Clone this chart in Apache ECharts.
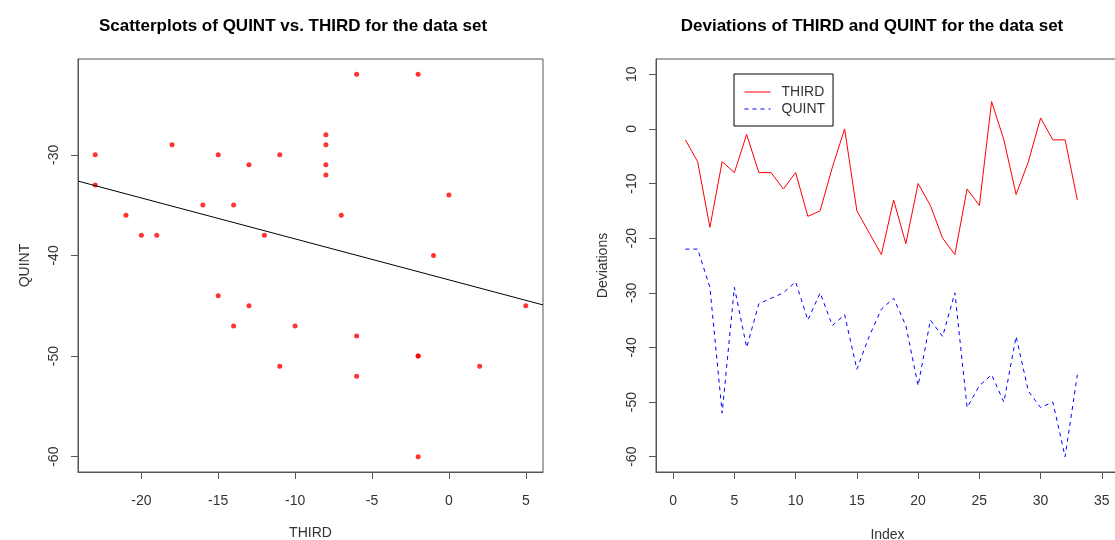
<!DOCTYPE html>
<html>
<head>
<meta charset="utf-8">
<title>QUINT vs THIRD</title>
<script src="https://cdn.jsdelivr.net/npm/echarts@6/dist/echarts.min.js"></script>
<style>
  html, body { margin: 0; padding: 0; background: #fff; }
  #chart { width: 1115px; height: 540px; }
</style>
</head>
<body>
<div id="chart"></div>
<script>
// deviations per index (1..33)
const third = [-2, -6, -18, -6, -8, -1, -8, -8, -11, -8, -16, -15, -7, 0, -15, -19, -23,
  -13, -21, -10, -14, -20, -23, -11, -14, 5, -2, -12, -6, 2, -2, -2, -13]
const quint = [-22, -22, -29, -52, -29, -40, -32, -31, -30, -28, -35, -30, -36, -34, -44, -38, -33,
  -31, -36, -47, -35, -38, -30, -51, -47, -45, -50, -38, -48, -51, -50, -60, -45]

// tick labels
const thirdTicks = [-20, -15, -10, -5, 0, 5]
const quintTicks = [-60, -50, -40, -30]
const indexTicks = [0, 5, 10, 15, 20, 25, 30, 35]
const devTicks = [-60, -50, -40, -30, -20, -10, 0, 10]

const FONT = '"Liberation Sans", Arial, sans-serif'
const AXIS_COLOR = '#555'
const TEXT_COLOR = '#333'

// R style ranges: data range padded by 4%
const pad = (lo, hi) => [lo - (hi - lo) * 0.04, hi + (hi - lo) * 0.04]
const xr1 = pad(Math.min(...third), Math.max(...third))
const yr1 = pad(Math.min(...quint), Math.max(...quint))
const xr2 = pad(0, 35)
const yr2 = pad(-60, 10)

// least squares fit QUINT ~ THIRD
const fit = () => {
  const n = third.length
  const mx = third.reduce((a, b) => a + b, 0) / n
  const my = quint.reduce((a, b) => a + b, 0) / n
  let sxy = 0, sxx = 0
  for (let i = 0; i < n; i++) {
    sxy += (third[i] - mx) * (quint[i] - my)
    sxx += (third[i] - mx) * (third[i] - mx)
  }
  const b = sxy / sxx
  return { a: my - b * mx, b }
}
const { a, b } = fit()

const axisCommon = (ticks, margin) => ({
  type: 'value',
  splitLine: { show: false },
  axisLine: { show: true, onZero: false, lineStyle: { color: AXIS_COLOR } },
  axisTick: { show: true, length: 7, lineStyle: { color: AXIS_COLOR }, customValues: ticks },
  axisLabel: { color: TEXT_COLOR, fontFamily: FONT, fontSize: 14, margin: margin, customValues: ticks },
  nameTextStyle: { color: TEXT_COLOR, fontFamily: FONT, fontSize: 14 },
  nameLocation: 'middle'
})

const chart = echarts.init(document.getElementById('chart'))

const option = {
  animation: false,
  backgroundColor: '#fff',
  title: [
    {
      text: 'Scatterplots of QUINT vs. THIRD for the data set',
      left: 288, top: 13, textAlign: 'center',
      textStyle: { fontFamily: FONT, fontSize: 17, fontWeight: 'bold', color: '#000' }
    },
    {
      text: 'Deviations of THIRD and QUINT for the data set',
      left: 867, top: 13, textAlign: 'center',
      textStyle: { fontFamily: FONT, fontSize: 17, fontWeight: 'bold', color: '#000' }
    }
  ],
  legend: {
    left: 734, top: 74,
    orient: 'vertical',
    padding: [11, 8, 10, 10],
    itemGap: 3,
    itemWidth: 26, itemHeight: 14,
    borderColor: '#000', borderWidth: 1,
    itemStyle: { opacity: 0 },
    lineStyle: { width: 1 },
    textStyle: { fontFamily: FONT, fontSize: 14, color: TEXT_COLOR, padding: [0, 0, 0, 6] },
    data: ['THIRD', 'QUINT']
  },
  grid: [
    { left: 78, top: 59, width: 465, height: 413, outerBoundsMode: 'none', show: true, borderColor: AXIS_COLOR, borderWidth: 1, backgroundColor: 'transparent' },
    { left: 656, top: 59, width: 463, height: 413, outerBoundsMode: 'none', show: true, borderColor: AXIS_COLOR, borderWidth: 1, backgroundColor: 'transparent' }
  ],
  xAxis: [
    Object.assign(axisCommon(thirdTicks, 22), { gridIndex: 0, min: xr1[0], max: xr1[1], name: 'THIRD', nameGap: 54 }),
    Object.assign(axisCommon(indexTicks, 22), { gridIndex: 1, min: xr2[0], max: xr2[1], name: 'Index', nameGap: 56 })
  ],
  yAxis: [
    Object.assign(axisCommon(quintTicks, 17), { gridIndex: 0, min: yr1[0], max: yr1[1], name: 'QUINT', nameGap: 46 }),
    Object.assign(axisCommon(devTicks, 17), { gridIndex: 1, min: yr2[0], max: yr2[1], name: 'Deviations', nameGap: 46 })
  ],
  series: [
    {
      name: 'points',
      type: 'scatter',
      xAxisIndex: 0, yAxisIndex: 0,
      symbolSize: 5,
      itemStyle: { color: '#ff0000' },
      data: third.map((t, i) => [t, quint[i]])
    },
    {
      name: 'fit',
      type: 'line',
      xAxisIndex: 0, yAxisIndex: 0,
      symbol: 'none',
      lineStyle: { color: '#000', width: 1 },
      data: [[xr1[0], a + b * xr1[0]], [xr1[1], a + b * xr1[1]]]
    },
    {
      name: 'THIRD',
      type: 'line',
      xAxisIndex: 1, yAxisIndex: 1,
      symbol: 'none',
      color: '#ff0000',
      lineStyle: { color: '#ff0000', width: 1 },
      data: third.map((v, i) => [i + 1, v])
    },
    {
      name: 'QUINT',
      type: 'line',
      xAxisIndex: 1, yAxisIndex: 1,
      symbol: 'none',
      color: '#0000ff',
      lineStyle: { color: '#0000ff', width: 1, type: [4, 4] },
      data: quint.map((v, i) => [i + 1, v])
    }
  ]
}

// y tick labels are turned like in R
option.yAxis.forEach(ax => { ax.axisLabel.rotate = 90 })

chart.setOption(option)

window.addEventListener('resize', () => chart.resize())
</script>
</body>
</html>
